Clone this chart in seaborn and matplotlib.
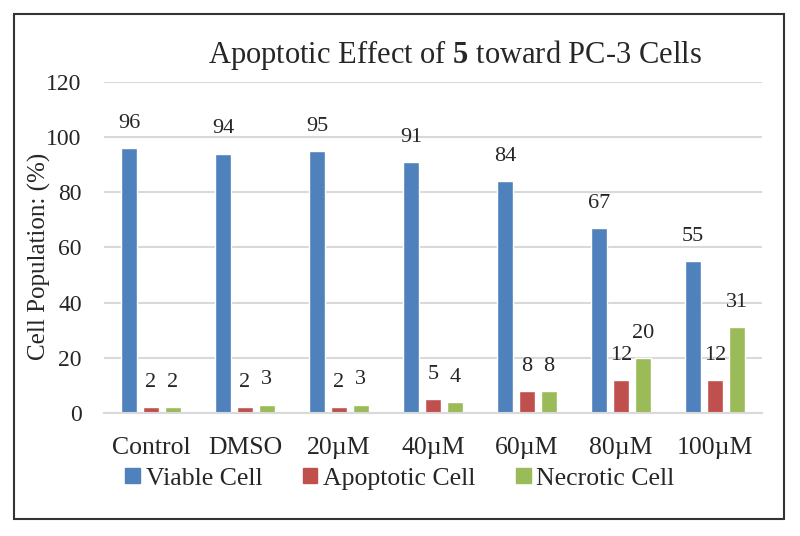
import pandas as pd
import seaborn as sns
import matplotlib
matplotlib.use("Agg")
from matplotlib import pyplot as plt
from matplotlib.patches import Rectangle

# data
groups = ['Control', 'DMSO', '20µM', '40µM', '60µM', '80µM', '100µM']
viable = [96, 94, 95, 91, 84, 67, 55]
apoptotic = [2, 2, 2, 5, 8, 12, 12]
necrotic = [2, 3, 3, 4, 8, 20, 31]
series = ['Viable Cell', 'Apoptotic Cell', 'Necrotic Cell']
colors = ['#4F81BD', '#C0504D', '#9BBB59']

df = pd.DataFrame({
    'group': groups * 3,
    'cell': [series[0]] * 7 + [series[1]] * 7 + [series[2]] * 7,
    'value': viable + apoptotic + necrotic,
})

sns.set_style('white')
plt.rcParams['font.family'] = ['Liberation Serif', 'DejaVu Serif']
plt.rcParams['mathtext.fontset'] = 'custom'
plt.rcParams['mathtext.rm'] = 'Liberation Serif'
plt.rcParams['mathtext.bf'] = 'Liberation Serif:bold'

fig = plt.figure(figsize=(8, 5.36), dpi=100)
ax = fig.add_axes([0.13, 0.2295, 0.8225, 0.6175])

sns.barplot(data=df, x='group', y='value', hue='cell', order=groups,
            hue_order=series, palette=colors, width=0.70, gap=0.24,
            saturation=1, ax=ax, legend=True)

for cont in ax.containers:
    ax.bar_label(cont, fontsize=16, padding=11)

ax.set_ylim(0, 120)
ax.set_yticks(range(0, 121, 20))
ax.yaxis.grid(True, color='#D9D9D9', linewidth=1.5)
ax.set_axisbelow(True)
for s in ax.spines.values():
    s.set_visible(False)
ax.spines['bottom'].set_visible(True)
ax.spines['bottom'].set_color('#D9D9D9')
ax.spines['bottom'].set_linewidth(1.5)
ax.tick_params(axis='x', length=0, labelsize=18.5, pad=17)
ax.tick_params(axis='y', length=0, labelsize=17, pad=16)
ax.set_xlabel('')
ax.set_ylabel('Cell Population: (%)', fontsize=18)
ax.yaxis.set_label_coords(-0.08, 0.474)

ax.set_title(r'Apoptotic Effect of $\mathbf{5}$ toward PC-3 Cells',
             fontsize=22, pad=14, x=0.533)

ax.get_legend().remove()
handles = [Rectangle((0, 0), 1, 1, color=c) for c in colors]
fig.legend(handles, series, loc='center', bbox_to_anchor=(0.5, 0.107),
           ncol=3, frameon=False, fontsize=18.5, handlelength=0.58,
           handleheight=0.55, handletextpad=0.23, columnspacing=1.55,
           borderpad=0)

fig.patches.append(Rectangle((0.0175, 0.0317), 0.9625, 0.942,
                             transform=fig.transFigure, fill=False,
                             edgecolor='#333333', linewidth=1.5))

fig.savefig('out.png', dpi=100)
